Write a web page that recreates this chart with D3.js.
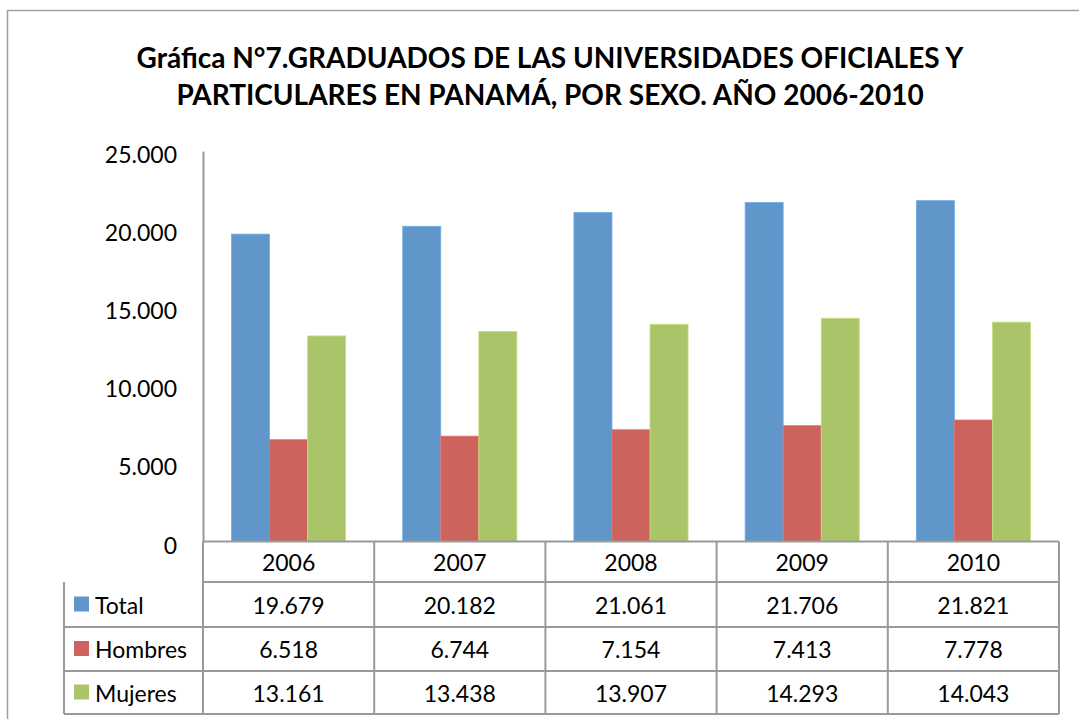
<!DOCTYPE html>
<html>
<head>
<meta charset="utf-8">
<script src="https://cdn.jsdelivr.net/npm/d3@7"></script>
<style>
  body { margin: 0; background: #fff; }
  text { font-family: Lato, "Open Sans", sans-serif; fill: #000; }
</style>
</head>
<body>
<div class="chart"></div>
<script>
// data
const years = ["2006", "2007", "2008", "2009", "2010"];
const seriesNames = ["Total", "Hombres", "Mujeres"];
const total = [19679, 20182, 21061, 21706, 21821];
const hombres = [6518, 6744, 7154, 7413, 7778];
const mujeres = [13161, 13438, 13907, 14293, 14043];
const yTicks = [0, 5000, 10000, 15000, 20000, 25000];
const titleLines = [
    "Gráfica N°7.GRADUADOS DE LAS UNIVERSIDADES OFICIALES Y",
    "PARTICULARES EN PANAMÁ, POR SEXO. AÑO 2006-2010"
];

const colors = ["#6096C9", "#CC635D", "#AAC46A"];
const seriesValues = [total, hombres, mujeres];

const locale = d3.formatLocale({ decimal: ",", thousands: ".", grouping: [3], currency: ["", ""] });
const fmt = locale.format(",d");

const W = 1079, H = 719;
const plot = { left: 203, right: 1059, top: 151, bottom: 541.5 };
const tableLeft = 64;
const rowLines = [541.5, 582, 627, 671, 714];

const svg = d3.select(".chart")
    .append("svg")
    .attr("width", W)
    .attr("height", H);

// outer frame (runs off the picture on the right and bottom)
svg.append("rect")
    .attr("x", 7.5)
    .attr("y", 10.5)
    .attr("width", 1200)
    .attr("height", 900)
    .attr("fill", "none")
    .attr("stroke", "#a0a0a0")
    .attr("stroke-width", 1.5);

// title
svg.append("g")
    .selectAll("text")
    .data(titleLines)
    .join("text")
    .attr("x", 550)
    .attr("y", (d, i) => 68 + i * 37)
    .attr("text-anchor", "middle")
    .attr("font-size", 28)
    .attr("font-weight", "bold")
    .text(d => d);

// scales
const x0 = d3.scaleBand()
    .domain(years)
    .range([plot.left, plot.right])
    .padding(0);

const x1 = d3.scaleBand()
    .domain(seriesNames)
    .range([0, x0.bandwidth()])
    .paddingInner(0)
    .paddingOuter(0.75);

const yScale = d3.scaleLinear()
    .domain([0, 25000])
    .range([plot.bottom, plot.top]);

// bars
const groups = svg.append("g")
    .selectAll("g")
    .data(years)
    .join("g")
    .attr("transform", d => "translate(" + x0(d) + ",0)");

groups.selectAll("rect")
    .data((d, i) => seriesNames.map((s, j) => ({ s: s, j: j, v: seriesValues[j][i] })))
    .join("rect")
    .attr("x", d => x1(d.s))
    .attr("width", x1.bandwidth())
    .attr("y", d => yScale(d.v))
    .attr("height", d => yScale(0) - yScale(d.v))
    .attr("fill", d => colors[d.j])
    .attr("stroke", d => d3.color(colors[d.j]).brighter(0.4))
    .attr("stroke-width", 0.8);

// y axis
const yAxis = d3.axisLeft(yScale)
    .tickValues(yTicks)
    .tickSize(0)
    .tickPadding(26)
    .tickFormat(fmt);

const yAxisGroup = svg.append("g")
    .attr("class", "axis y-axis")
    .attr("transform", "translate(" + plot.left + ",0)")
    .call(yAxis);

yAxisGroup.select(".domain")
    .attr("stroke", "#9a9a9a")
    .attr("stroke-width", 2);

yAxisGroup.selectAll("text")
    .attr("font-size", 23)
    .attr("font-family", "Lato, sans-serif")
    .attr("fill", "#000")
    .attr("dy", "0.5em");

// data table
const table = svg.append("g").attr("class", "table");
const lineColor = "#9a9a9a";

// horizontal lines
table.selectAll("line.h")
    .data(rowLines)
    .join("line")
    .attr("class", "h")
    .attr("x1", (d, i) => i <= 1 ? plot.left : tableLeft)
    .attr("x2", plot.right)
    .attr("y1", d => d)
    .attr("y2", d => d)
    .attr("stroke", lineColor)
    .attr("stroke-width", 2);

// vertical lines
const colEdges = years.map(y => x0(y)).concat([plot.right]);
table.selectAll("line.v")
    .data(colEdges)
    .join("line")
    .attr("class", "v")
    .attr("x1", d => d)
    .attr("x2", d => d)
    .attr("y1", rowLines[0])
    .attr("y2", rowLines[4])
    .attr("stroke", lineColor)
    .attr("stroke-width", 2);

table.append("line")
    .attr("x1", tableLeft)
    .attr("x2", tableLeft)
    .attr("y1", rowLines[1])
    .attr("y2", rowLines[4])
    .attr("stroke", lineColor)
    .attr("stroke-width", 2);

// year headers
table.selectAll("text.year")
    .data(years)
    .join("text")
    .attr("class", "year")
    .attr("x", d => x0(d) + x0.bandwidth() / 2)
    .attr("y", (rowLines[0] + rowLines[1]) / 2 + 9)
    .attr("text-anchor", "middle")
    .attr("font-size", 23)
    .text(d => d);

// rows
seriesNames.forEach((name, j) => {
    const yMid = (rowLines[j + 1] + rowLines[j + 2]) / 2;

    table.append("rect")
        .attr("x", 74)
        .attr("y", yMid - 8)
        .attr("width", 15)
        .attr("height", 15)
        .attr("fill", colors[j]);

    table.append("text")
        .attr("x", 95)
        .attr("y", yMid + 9)
        .attr("font-size", 23)
        .text(name);

    table.selectAll("text.val" + j)
        .data(seriesValues[j])
        .join("text")
        .attr("class", "val" + j)
        .attr("x", (d, i) => x0(years[i]) + x0.bandwidth() / 2)
        .attr("y", yMid + 9)
        .attr("text-anchor", "middle")
        .attr("font-size", 23)
        .text(d => fmt(d));
});
</script>
</body>
</html>
